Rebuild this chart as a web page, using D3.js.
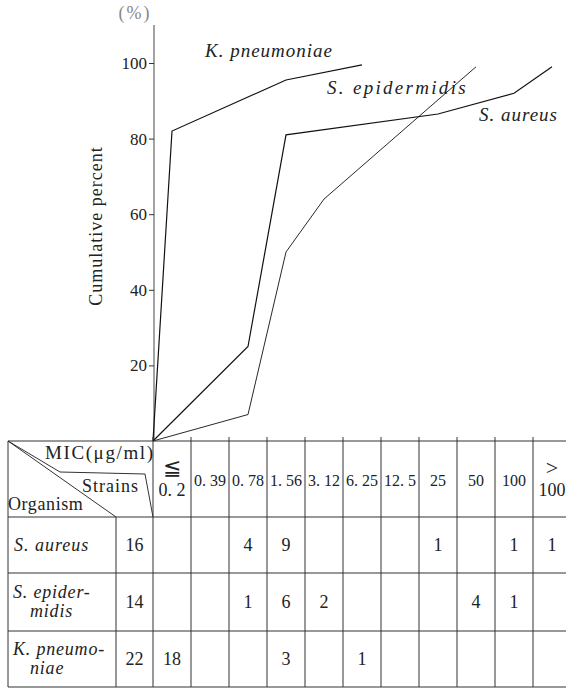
<!DOCTYPE html>
<html>
<head>
<meta charset="utf-8">
<style>
    body { margin: 0; background: #fff; }
    svg { display: block; }
    svg text { font-family: "Liberation Serif", serif; fill: #222; }
</style>
</head>
<body>
<svg width="566" height="689"></svg>
<script src="https://d3js.org/d3.v7.min.js"></script>
<script>
// MIC columns (µg/ml), "|" splits a stacked label
let micLabels = ["≦|0. 2", "0. 39", "0. 78", "1. 56", "3. 12", "6. 25", "12. 5", "25", "50", "100", ">|100"];
let organisms = ["S. aureus", "S. epider-|midis", "K. pneumo-|niae"];
let strains = [16, 14, 22];
let counts = [
    [0, 0, 4, 9, 0, 0, 0, 1, 0, 1, 1],
    [0, 0, 1, 6, 2, 0, 0, 0, 4, 1, 0],
    [18, 0, 0, 3, 0, 1, 0, 0, 0, 0, 0]
];

// plotted cumulative percent
let kpnCols = ["≦|0. 2", "1. 56", "6. 25"];
let kpnPct = [82, 95.5, 99.5];
let epiCols = ["0. 78", "1. 56", "3. 12", "50"];
let epiPct = [7, 50, 64, 99];
let aurCols = ["0. 78", "1. 56", "25", "100", ">|100"];
let aurPct = [25, 81, 86.5, 92, 99];
let yTicks = [20, 40, 60, 80, 100];

let svg = d3.select("svg");

let x = d3.scaleBand().domain(micLabels).range([153, 571]);
let y = d3.scaleLinear().domain([0, 100]).range([441, 63]);
let x0 = x.range()[0];

// small helper so sizes go in as inline style
function label(tx, ty, s, size, opts) {
    opts = opts || {};
    let t = svg.append("text")
        .attr("x", tx).attr("y", ty)
        .style("font-size", size + "px")
        .style("letter-spacing", (opts.ls || 0) + "px")
        .attr("text-anchor", opts.anchor || "start")
        .text(s);
    if (opts.italic) t.style("font-style", "italic");
    if (opts.fill) t.style("fill", opts.fill);
    return t;
}

// y axis
svg.append("line")
    .attr("x1", x0 + 1).attr("x2", x0 + 1)
    .attr("y1", 25).attr("y2", y(0))
    .attr("stroke", "#666").attr("stroke-width", 1.2);

let yAxis = svg.append("g")
    .attr("transform", `translate(${x0 + 1},0)`)
    .call(d3.axisLeft(y).tickValues(yTicks).tickSize(5).tickPadding(2));
yAxis.select(".domain").remove();
yAxis.selectAll(".tick line").attr("stroke", "#333");
yAxis.selectAll(".tick text").style("font-size", "17px").style("font-family", "Liberation Serif, serif");

label(135, 19, "(%)", 18, { anchor: "middle", ls: 2, fill: "#888" });
label(0, 0, "Cumulative percent", 18, { anchor: "middle", ls: 1 })
    .attr("transform", "translate(102,226) rotate(-90)");

// curves
let line = d3.line().x(d => d[0]).y(d => d[1]);
function curve(cols, pct, w) {
    let pts = [[x0, y(0)]].concat(cols.map((c, i) => [x(c) + x.bandwidth() / 2, y(pct[i])]));
    svg.append("path")
        .attr("d", line(pts))
        .attr("fill", "none")
        .attr("stroke", "#111")
        .attr("stroke-width", w);
}
curve(kpnCols, kpnPct, 1.2);
curve(aurCols, aurPct, 1.2);
curve(epiCols, epiPct, 0.9);

label(205, 57, "K. pneumoniae", 19, { italic: true, ls: 1 });
label(327, 94, "S. epidermidis", 19, { italic: true, ls: 2.3 });
label(479, 121, "S. aureus", 19, { italic: true, ls: 1 });

// table
let rowEdges = [441, 517, 573, 631, 687];
let tableLeft = 8, orgRight = 116, tableRight = 566;
let grid = svg.append("g").attr("stroke", "#333").attr("stroke-width", 1);

rowEdges.forEach(ry => {
    grid.append("line")
        .attr("x1", tableLeft).attr("x2", tableRight)
        .attr("y1", ry).attr("y2", ry);
});
grid.append("line").attr("x1", tableLeft).attr("x2", tableLeft).attr("y1", 441).attr("y2", 687);
grid.append("line").attr("x1", orgRight).attr("x2", orgRight).attr("y1", 517).attr("y2", 687);
micLabels.forEach(c => {
    grid.append("line")
        .attr("x1", x(c)).attr("x2", x(c))
        .attr("y1", 437).attr("y2", 687);
});

// header diagonals
grid.append("path")
    .attr("fill", "none")
    .attr("d", line([[tableLeft, 441], [60, 472], [145, 474], [x0, 517]]));
grid.append("line").attr("x1", tableLeft).attr("y1", 441).attr("x2", orgRight).attr("y2", 517);

label(45, 459, "MIC(μg/ml)", 19, { ls: 1.6 });
label(82, 492, "Strains", 18, { ls: 1 });
label(8, 510, "Organism", 18, { ls: 0.6 });

// column headers
micLabels.forEach(c => {
    let parts = c.split("|");
    let cx = x(c) + x.bandwidth() / 2;
    if (parts.length === 1) {
        label(cx, 486, parts[0], 16, { anchor: "middle" });
    } else {
        label(cx, 475, parts[0], 22, { anchor: "middle" });
        label(cx, 496, parts[1], 18, { anchor: "middle" });
    }
});

// rows
organisms.forEach((o, r) => {
    let top = rowEdges[r + 1], bot = rowEdges[r + 2];
    let mid = (top + bot) / 2;
    let parts = o.split("|");
    if (parts.length === 1) {
        label(14, mid + 6, parts[0], 18, { italic: true, ls: 1 });
    } else {
        label(13, mid - 4, parts[0], 18, { italic: true, ls: 0.8 });
        label(30, mid + 15, parts[1], 18, { italic: true, ls: 0.8 });
    }
    label((orgRight + x0) / 2, mid + 6, strains[r], 18, { anchor: "middle" });
    counts[r].forEach((v, i) => {
        if (!v) return;
        label(x(micLabels[i]) + x.bandwidth() / 2, mid + 6, v, 18, { anchor: "middle" });
    });
});
</script>
</body>
</html>
